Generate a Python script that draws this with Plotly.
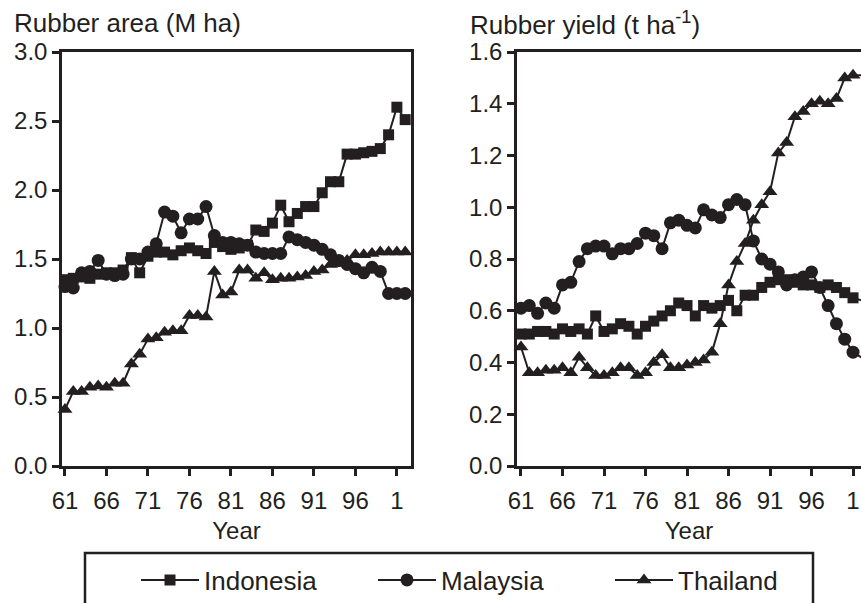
import plotly.graph_objects as go

years = list(range(61, 103))  # 1961..2002, labelled by last two digits
tick_vals = [61, 66, 71, 76, 81, 86, 91, 96, 101]
tick_text = ["61", "66", "71", "76", "81", "86", "91", "96", "1"]

area_indonesia = [1.35, 1.36, 1.37, 1.36, 1.39, 1.40, 1.40, 1.42, 1.51, 1.40,
                  1.52, 1.55, 1.55, 1.53, 1.56, 1.58, 1.56, 1.54, 1.62, 1.59,
                  1.57, 1.58, 1.60, 1.71, 1.70, 1.76, 1.89, 1.77, 1.83, 1.88,
                  1.88, 1.98, 2.06, 2.06, 2.26, 2.26, 2.27, 2.28, 2.30, 2.40,
                  2.60, 2.51]
area_malaysia = [1.30, 1.29, 1.40, 1.41, 1.49, 1.39, 1.38, 1.39, 1.50, 1.50,
                 1.55, 1.61, 1.84, 1.81, 1.69, 1.79, 1.79, 1.88, 1.67, 1.62,
                 1.62, 1.61, 1.60, 1.55, 1.54, 1.54, 1.54, 1.66, 1.64, 1.62,
                 1.60, 1.57, 1.53, 1.49, 1.46, 1.43, 1.40, 1.44, 1.41, 1.25,
                 1.25, 1.25]
area_thailand = [0.41, 0.54, 0.54, 0.57, 0.58, 0.57, 0.60, 0.60, 0.74, 0.81,
                 0.92, 0.93, 0.97, 0.98, 0.98, 1.09, 1.09, 1.08, 1.41, 1.24,
                 1.26, 1.42, 1.42, 1.36, 1.40, 1.35, 1.36, 1.36, 1.37, 1.38,
                 1.41, 1.42, 1.46, 1.47, 1.49, 1.53, 1.53, 1.54, 1.55, 1.55,
                 1.55, 1.55]

yield_indonesia = [0.51, 0.51, 0.52, 0.52, 0.51, 0.53, 0.52, 0.53, 0.51, 0.58,
                   0.52, 0.53, 0.55, 0.54, 0.51, 0.54, 0.56, 0.58, 0.60, 0.63,
                   0.62, 0.58, 0.62, 0.61, 0.62, 0.64, 0.60, 0.66, 0.66, 0.69,
                   0.71, 0.72, 0.72, 0.71, 0.70, 0.70, 0.69, 0.70, 0.69, 0.67,
                   0.65, 0.64]
yield_malaysia = [0.61, 0.62, 0.59, 0.63, 0.61, 0.70, 0.71, 0.79, 0.84, 0.85,
                  0.85, 0.82, 0.84, 0.84, 0.86, 0.90, 0.89, 0.84, 0.94, 0.95,
                  0.93, 0.92, 0.99, 0.97, 0.96, 1.01, 1.03, 1.01, 0.87, 0.80,
                  0.78, 0.75, 0.70, 0.72, 0.73, 0.75, 0.69, 0.62, 0.55, 0.49,
                  0.44, 0.42]
yield_thailand = [0.46, 0.36, 0.36, 0.37, 0.37, 0.38, 0.36, 0.42, 0.38, 0.35,
                  0.35, 0.36, 0.38, 0.38, 0.35, 0.36, 0.40, 0.43, 0.38, 0.38,
                  0.39, 0.40, 0.41, 0.44, 0.55, 0.70, 0.79, 0.86, 0.95, 1.01,
                  1.06, 1.21, 1.25, 1.35, 1.37, 1.40, 1.41, 1.40, 1.42, 1.50,
                  1.51, 1.51]

countries = ["Indonesia", "Malaysia", "Thailand"]
symbols = ["square", "circle", "triangle-up"]
sizes = [11, 13, 13]
area_series = [area_indonesia, area_malaysia, area_thailand]
yield_series = [yield_indonesia, yield_malaysia, yield_thailand]

INK = "#231f20"
FONT = "Arial, Liberation Sans, sans-serif"
W, H = 861, 603

fig = go.Figure()
for name, sym, sz, a, yv in zip(countries, symbols, sizes, area_series, yield_series):
    fig.add_trace(go.Scatter(x=years, y=a, name=name, mode="lines+markers",
                             line=dict(color=INK, width=2),
                             marker=dict(symbol=sym, size=sz, color=INK),
                             xaxis="x", yaxis="y", showlegend=True, cliponaxis=False))
    fig.add_trace(go.Scatter(x=years, y=yv, name=name, mode="lines+markers",
                             line=dict(color=INK, width=2),
                             marker=dict(symbol=sym, size=sz, color=INK),
                             xaxis="x2", yaxis="y2", showlegend=False, cliponaxis=False))

def px_x(p):
    return p / W

def px_y(p):
    return 1 - p / H

axis_common = dict(showline=True, linecolor=INK, linewidth=2.5, ticks="outside",
                   ticklen=7, tickwidth=2.5, tickcolor=INK, showgrid=False,
                   zeroline=False, tickfont=dict(family=FONT, size=24, color=INK))

xtitle = dict(text="Year", font=dict(size=24, family=FONT, color=INK), standoff=10)

fig.update_layout(
    width=W, height=H, margin=dict(l=0, r=0, t=0, b=0, autoexpand=False),
    paper_bgcolor="white", plot_bgcolor="white",
    font=dict(family=FONT, size=24, color=INK),
    xaxis=dict(domain=[px_x(62), px_x(411)], range=[60.64, 102.7], anchor="y",
               tickvals=tick_vals, ticktext=tick_text, mirror=True,
               ticklabelstandoff=4, title=xtitle, **axis_common),
    yaxis=dict(domain=[px_y(466), px_y(52)], range=[0, 3.0], anchor="x",
               dtick=0.5, tickformat=".1f", mirror=True, **axis_common),
    xaxis2=dict(domain=[px_x(517), 1.0], range=[60.52, 101.96], anchor="y2",
                tickvals=tick_vals, ticktext=tick_text, mirror=True,
                ticklabelstandoff=4, title=xtitle, **axis_common),
    yaxis2=dict(domain=[px_y(466), px_y(52)], range=[0, 1.6], anchor="x2",
                dtick=0.2, tickformat=".1f", mirror=False, **axis_common),
    legend=dict(orientation="h", x=px_x(136), xanchor="left",
                y=px_y(580), yanchor="middle",
                font=dict(family=FONT, size=26, color=INK),
                bgcolor="rgba(0,0,0,0)", borderwidth=0,
                entrywidthmode="pixels", entrywidth=164, itemwidth=58),
    annotations=[
        dict(text="Rubber area (M ha)", x=px_x(12), y=px_y(23), xref="paper", yref="paper",
             xanchor="left", yanchor="middle", showarrow=False,
             font=dict(family=FONT, size=26, color=INK)),
        dict(text="Rubber yield (t ha<sup>-1</sup>)", x=px_x(468), y=px_y(23), xref="paper", yref="paper",
             xanchor="left", yanchor="middle", showarrow=False,
             font=dict(family=FONT, size=26, color=INK)),
    ],
    shapes=[dict(type="rect", xref="paper", yref="paper",
                 x0=px_x(85), x1=px_x(813), y0=-0.2, y1=px_y(553),
                 line=dict(color=INK, width=2.5), fillcolor="rgba(0,0,0,0)")],
)

fig.write_html("out.html")
